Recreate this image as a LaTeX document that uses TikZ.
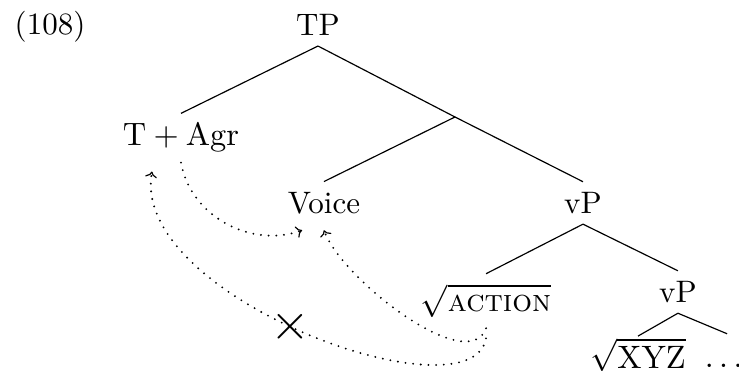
\documentclass[tikz,border=0pt]{standalone}
\usetikzlibrary{arrows.meta}
\begin{document}
\begin{tikzpicture}[
	every node/.style={font=\fontsize{10.5}{12.5}\selectfont},
	mv/.style={line width=0.7pt, line cap=round, dash pattern=on 0pt off 2.6pt,
		-{To[length=2pt,width=4pt,line width=0.4pt]}}
	]
	
	\useasboundingbox (0,0) rectangle (8.787,4.411);
	
	% labels
	\node (ex) at (0.595,4.090) {(108)};
	\node (TP) at (3.781,4.114) {TP};
	\node (TAgr) at (2.152,2.770) {$\mathrm{T+Agr}$};
	\coordinate (br) at (5.410,3.020);
	\node (Voice) at (3.852,1.998) {Voice};
	\node (vP) at (6.932,1.998) {vP};
	\node (act) at (5.779,0.832) {$\sqrt{\mbox{\textsc{action}}}$};
	\node (lvP) at (8.061,0.939) {vP};
	\node[inner ysep=0.5pt] (xyz) at (7.586,0.190) {$\sqrt{\mathrm{XYZ}}$};
	\node[text height=8pt] (dots) at (8.605,0.178) {$\ldots$};
	
	% tree
	\draw (TP.south) -- (TAgr.north);
	\draw (TP.south) -- (br);
	\draw (br) -- (Voice.north);
	\draw (br) -- (vP.north);
	\draw (vP.south) -- (act.north);
	\draw (vP.south) -- (lvP.north);
	\draw (lvP.south) -- (xyz.north);
	\draw (lvP.south) -- ([xshift=0.04cm]dots.north);
	
	% movement
	\draw[mv] (TAgr.south) to[out=-80,in=200] ([xshift=-0.26cm,yshift=-2pt]Voice.south);
	\draw[mv] (act.south) to[out=-110,in=-70,looseness=0.7] ([yshift=-2pt]Voice.south);
	\draw[mv] ([yshift=-0.12cm]act.south) to[out=-100,in=-100,out distance=0.99cm,in distance=1.53cm]
		node[pos=0.53] {\LARGE$\times$} ([xshift=-0.345cm,yshift=-3pt]TAgr.south);
	
\end{tikzpicture}
\end{document}
